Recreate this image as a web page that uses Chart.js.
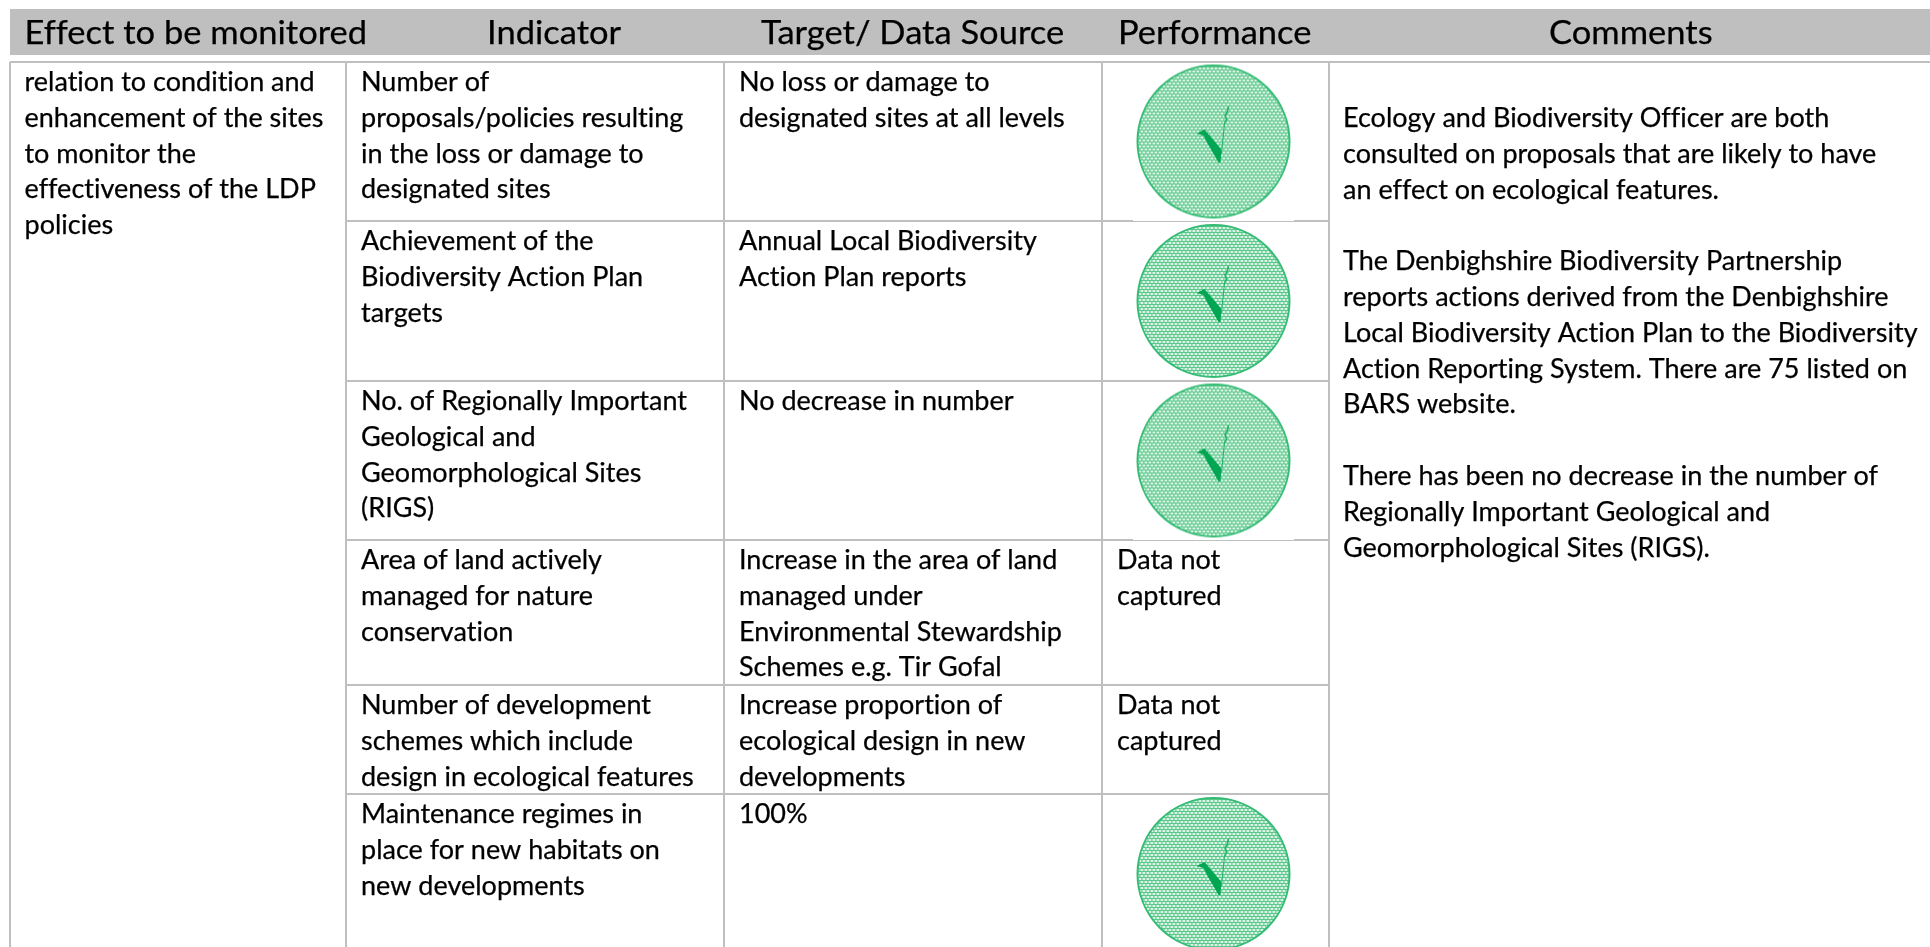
<!DOCTYPE html>
<html>
<head>
<meta charset="utf-8">
<style>
  html, body { margin: 0; padding: 0; background: #fff; overflow: hidden; }
  canvas { display: block; }
</style>
<script src="https://cdn.jsdelivr.net/npm/chart.js@4"></script>
</head>
<body>
<canvas id="table-chart" width="1930" height="947"></canvas>
<script>
// --- Table content ---
const headers = ['Effect to be monitored', 'Indicator', 'Target/ Data Source', 'Performance', 'Comments'];

const effectLines = ['relation to condition and', 'enhancement of the sites', 'to monitor the', 'effectiveness of the LDP', 'policies'];

const indicators = [
    ['Number of', 'proposals/policies resulting', 'in the loss or damage to', 'designated sites'],
    ['Achievement of the', 'Biodiversity Action Plan', 'targets'],
    ['No. of Regionally Important', 'Geological and', 'Geomorphological Sites', '(RIGS)'],
    ['Area of land actively', 'managed for nature', 'conservation'],
    ['Number of development', 'schemes which include', 'design in ecological features'],
    ['Maintenance regimes in', 'place for new habitats on', 'new developments']
];

const targets = [
    ['No loss or damage to', 'designated sites at all levels'],
    ['Annual Local Biodiversity', 'Action Plan reports'],
    ['No decrease in number'],
    ['Increase in the area of land', 'managed under', 'Environmental Stewardship', 'Schemes e.g. Tir Gofal'],
    ['Increase proportion of', 'ecological design in new', 'developments'],
    ['100%']
];

// true = green tick, false = "Data not captured"
const performanceMet = [true, true, true, false, false, true];
const notCapturedLines = ['Data not', 'captured'];

const commentLines = [
    'Ecology and Biodiversity Officer are both',
    'consulted on proposals that are likely to have',
    'an effect on ecological features.',
    '',
    'The Denbighshire Biodiversity Partnership',
    'reports actions derived from the Denbighshire',
    'Local Biodiversity Action Plan to the Biodiversity',
    'Action Reporting System. There are 75 listed on',
    'BARS website.',
    '',
    'There has been no decrease in the number of',
    'Regionally Important Geological and',
    'Geomorphological Sites (RIGS).'
];

// --- Layout of the grid, in axis units ---
const colEdges = [10, 346, 724, 1102, 1329, 1930];
const rowEdges = [62, 221, 381, 540, 685, 794, 954];
const headerTop = 9;
const headerBottom = 55;
const headerBaseline = 44.3;
const headerX = [24.5, 487, 761, 1118, 1549];
const cellPadLeft = [14.5, 15, 15, 15, 14];

const FONT = 'Lato, "Open Sans", sans-serif';
const BODY_SIZE = 26;
const BODY_STRETCH = 1.038;
const HEADER_SIZE = 32;
const HEADER_STRETCH = 1.078;
const LINE_HEIGHT = 35.8;
const GRID_COLOR = '#BFBFBF';

// Kropkowane kolko z "ptaszkiem" na bialym tle, uzywane jako pointStyle
function makeTickBadge(w, h, d) {
    const c = document.createElement('canvas');
    c.width = w;
    c.height = h;
    const g = c.getContext('2d');
    g.fillStyle = '#fff';
    g.fillRect(0, 0, w, h);
    const r = d / 2;
    g.translate(w / 2, h / 2);

    g.save();
    g.beginPath();
    g.arc(0, 0, r - 1, 0, Math.PI * 2);
    g.clip();
    g.fillStyle = '#5CC98C';
    g.fillRect(-r, -r, d, d);
    g.fillStyle = '#DDF5E7';
    for (let row = 0; row * 3 < d; row++) {
        for (let col = 0; col * 4 < d + 4; col++) {
            g.fillRect(-r + col * 4 - (row % 2 ? 2 : 0), -r + row * 3, 2.8, 2);
        }
    }
    g.restore();

    g.beginPath();
    g.arc(0, 0, r - 1, 0, Math.PI * 2);
    g.strokeStyle = '#34BC74';
    g.lineWidth = 2;
    g.stroke();

    g.fillStyle = '#00A651';
    g.beginPath();
    g.moveTo(-17, -8);
    g.lineTo(-9, -12);
    g.lineTo(8, 8);
    g.lineTo(7, 21);
    g.lineTo(5, 21);
    g.lineTo(-6, 2);
    g.lineTo(-10, -6);
    g.closePath();
    g.fill();

    g.strokeStyle = '#22B266';
    g.lineWidth = 1;
    g.beginPath();
    g.moveTo(8, 12);
    g.lineTo(11, -18);
    g.stroke();
    g.lineWidth = 1.6;
    g.beginPath();
    g.moveTo(11, -18);
    g.lineTo(13, -22);
    g.lineTo(11.5, -26);
    g.lineTo(14, -30);
    g.lineTo(15, -35);
    g.stroke();
    return c;
}

const tickBadge = makeTickBadge(161, 158, 154);

// Linie siatki tabeli jako osobne serie
const lineStyle = { type: 'scatter', showLine: true, pointRadius: 0, borderColor: GRID_COLOR, borderWidth: 2, order: 1 };
const gridDatasets = [];
gridDatasets.push({ ...lineStyle, data: [{ x: colEdges[0], y: rowEdges[0] }, { x: colEdges[5], y: rowEdges[0] }] });
rowEdges.slice(1, 6).forEach(y => {
    gridDatasets.push({ ...lineStyle, data: [{ x: colEdges[1], y }, { x: colEdges[4], y }] });
});
colEdges.slice(0, 5).forEach(x => {
    gridDatasets.push({ ...lineStyle, data: [{ x, y: rowEdges[0] }, { x, y: 947 }] });
});

const badgePoints = [];
performanceMet.forEach((met, i) => {
    if (met) badgePoints.push({ x: (colEdges[3] + colEdges[4]) / 2 - 2, y: (rowEdges[i] + rowEdges[i + 1]) / 2 });
});

const tableText = {
    id: 'tableText',
    beforeDatasetsDraw(chart) {
        const { ctx, scales: { x, y } } = chart;
        ctx.save();
        ctx.fillStyle = GRID_COLOR;
        ctx.fillRect(x.getPixelForValue(colEdges[0]), y.getPixelForValue(headerTop), x.getPixelForValue(1930) - x.getPixelForValue(colEdges[0]), y.getPixelForValue(headerBottom) - y.getPixelForValue(headerTop));
        ctx.restore();
    },
    afterDatasetsDraw(chart) {
        const { ctx, scales: { x, y } } = chart;
        ctx.save();
        ctx.fillStyle = '#000';
        ctx.strokeStyle = '#000';
        ctx.lineWidth = 0.25; // tekst w oryginale jest nieco grubszy
        ctx.textBaseline = 'alphabetic';
        ctx.letterSpacing = '0.01px'; // bez ligatur "ti"

        const put = (text, left, base, stretch) => {
            ctx.save();
            ctx.translate(x.getPixelForValue(left), y.getPixelForValue(base));
            ctx.scale(stretch, 1);
            ctx.fillText(text, 0, 0);
            ctx.strokeText(text, 0, 0);
            ctx.restore();
        };

        ctx.font = `${HEADER_SIZE}px ${FONT}`;
        headers.forEach((h, i) => put(h, headerX[i], headerBaseline, HEADER_STRETCH));

        ctx.font = `${BODY_SIZE}px ${FONT}`;
        const drawLines = (lines, left, firstBaseline) => {
            lines.forEach((line, i) => {
                if (line) put(line, left, firstBaseline + i * LINE_HEIGHT, BODY_STRETCH);
            });
        };
        drawLines(effectLines, colEdges[0] + cellPadLeft[0], rowEdges[0] + 29);
        indicators.forEach((lines, i) => drawLines(lines, colEdges[1] + cellPadLeft[1], rowEdges[i] + 29));
        targets.forEach((lines, i) => drawLines(lines, colEdges[2] + cellPadLeft[2], rowEdges[i] + 29));
        performanceMet.forEach((met, i) => {
            if (!met) drawLines(notCapturedLines, colEdges[3] + cellPadLeft[3], rowEdges[i] + 29);
        });
        drawLines(commentLines, colEdges[4] + cellPadLeft[4], rowEdges[0] + 65);
        ctx.restore();
    }
};

new Chart(document.getElementById('table-chart').getContext('2d'), {
    type: 'scatter',
    data: {
        datasets: [
            ...gridDatasets,
            { data: badgePoints, pointStyle: tickBadge, pointRadius: 77, pointHoverRadius: 77, order: -1 }
        ]
    },
    options: {
        responsive: false,
        animation: false,
        layout: { padding: 0, autoPadding: false },
        plugins: { legend: { display: false }, tooltip: { enabled: false } },
        scales: {
            x: { type: 'linear', min: 0, max: 1930, display: false },
            y: { type: 'linear', min: 0, max: 947, reverse: true, display: false }
        }
    },
    plugins: [tableText]
});
</script>
</body>
</html>
